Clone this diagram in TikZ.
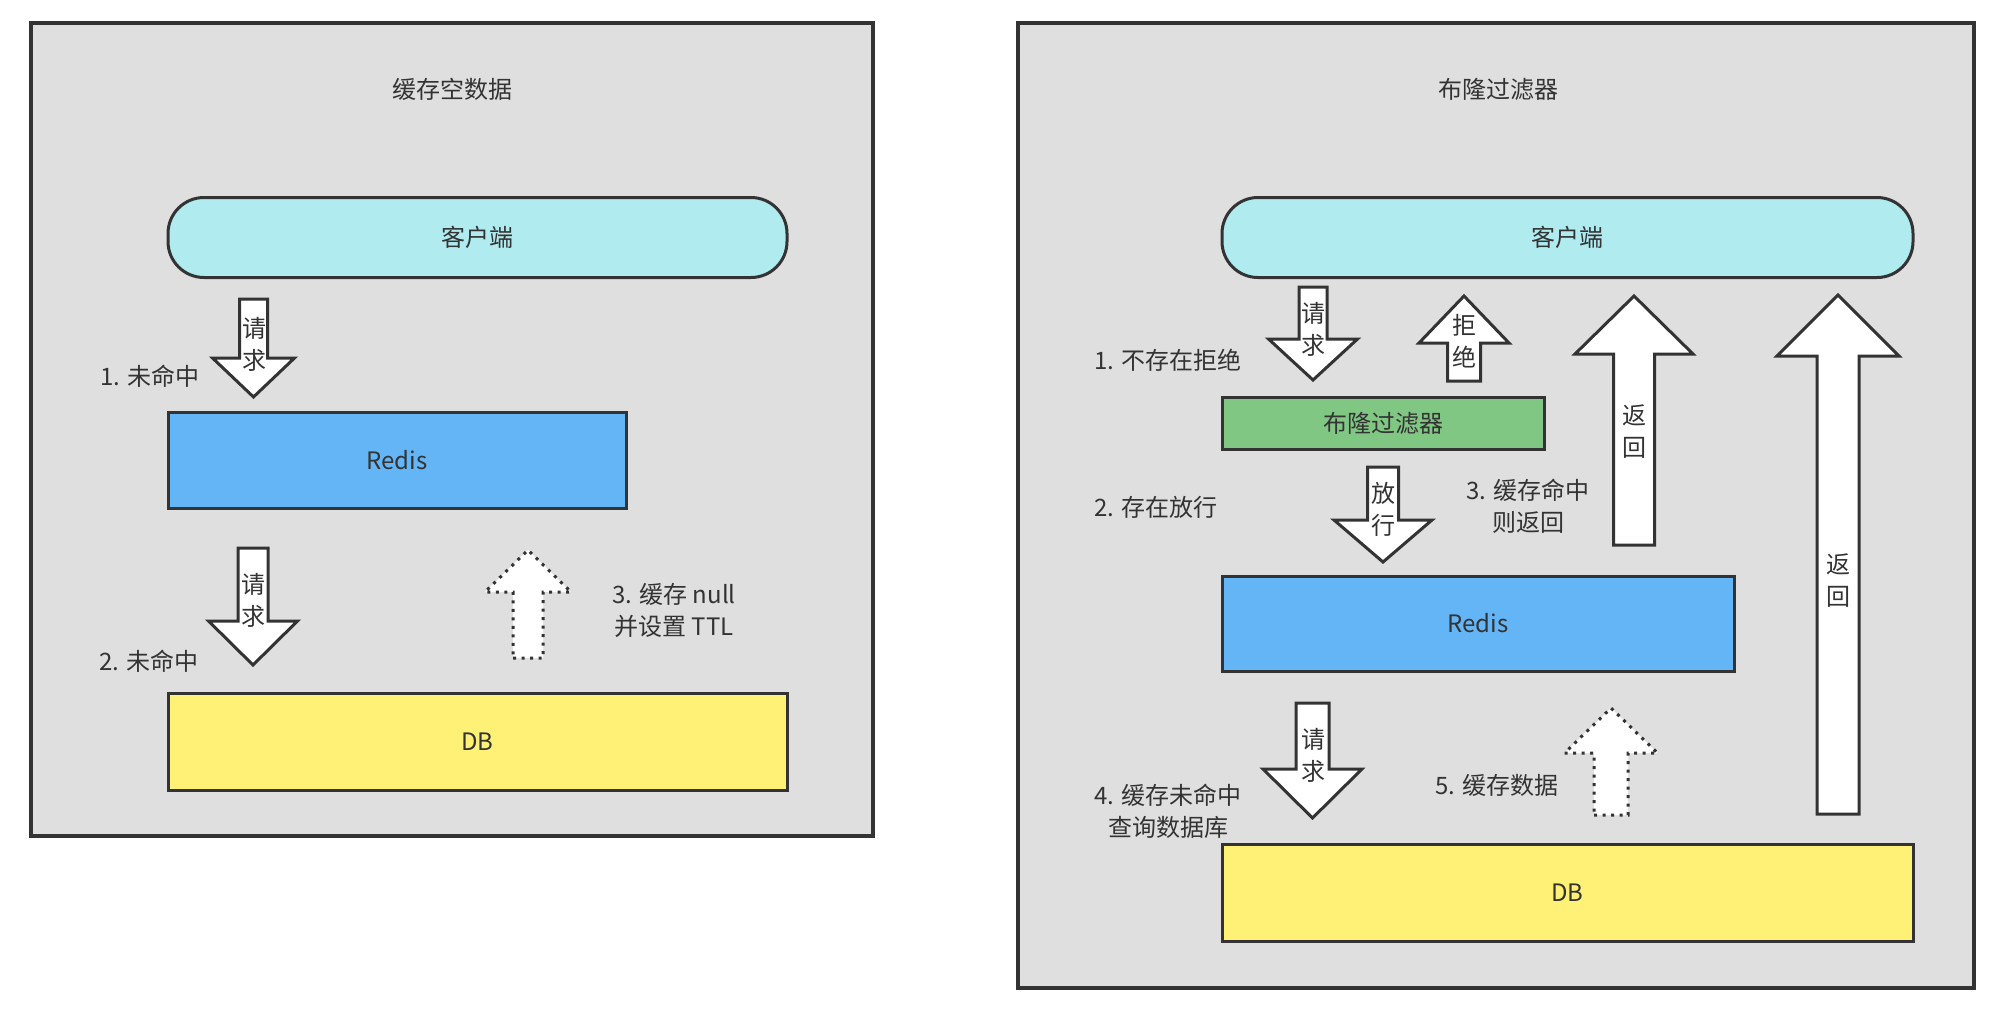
\documentclass[tikz,border=0pt]{standalone}
\usepackage{fontspec}
\setmainfont{Noto Sans CJK SC}
\definecolor{bg}{HTML}{DFDFDF}
\definecolor{edge}{HTML}{333333}
\definecolor{ink}{HTML}{333333}
\definecolor{cyanfill}{HTML}{B0EBF0}
\definecolor{redisfill}{HTML}{64B5F6}
\definecolor{dbfill}{HTML}{FFF176}
\definecolor{bloomfill}{HTML}{81C784}
\newcommand\blkarrow[7][barrow]{%
  \draw[#1] ({#2-#3},#5) -- ({#2+#3},#5) -- ({#2+#3},#6) -- ({#2+#4},#6) -- (#2,#7) -- ({#2-#4},#6) -- ({#2-#3},#6) -- cycle;}
\begin{document}
\begin{tikzpicture}[x=1pt,y=-1pt,
  panel/.style={draw=edge, line width=4pt, fill=bg},
  box/.style={draw=edge, line width=3pt, inner sep=0pt, text=ink, font=\fontsize{24}{32}\selectfont},
  pill/.style={box, fill=cyanfill, rounded corners=36pt},
  txt/.style={text=ink, font=\fontsize{24}{32}\selectfont, inner sep=0pt, align=center},
  barrow/.style={draw=edge, line width=3pt, fill=white, line join=miter},
  darrow/.style={draw=edge, line width=3pt, fill=white, dash pattern=on 3pt off 5.5pt}]
\useasboundingbox (0,0) rectangle (2012,1020);
\fill[white] (0,0) rectangle (2012,1020);

% ---------- left panel ----------
\draw[panel] (31,23) rectangle (873,836);
\node[txt] (titleL) at (452,89) {缓存空数据};
\node[pill, minimum width=619pt, minimum height=80pt] (clientL) at (477.5,237.5) {客户端};
\node[box, fill=redisfill, minimum width=458pt, minimum height=96pt] (redisL) at (397,460) {Redis};
\node[box, fill=dbfill, minimum width=619pt, minimum height=97pt] (dbL) at (477.5,741.5) {DB};

\blkarrow{253.5}{14}{41}{299}{358}{397}
\node[txt] (reqL1) at (254,344) {请\\求};
\node[txt, anchor=west] (missL1) at (100,376) {1. 未命中};

\blkarrow{253}{15}{44.5}{548}{621}{665}
\node[txt] (reqL2) at (253,600) {请\\求};
\node[txt, anchor=west] (missL2) at (99,661) {2. 未命中};

\blkarrow[darrow]{528}{15}{43}{658}{592}{550}
\node[txt] (nullL) at (674,610) {3. 缓存 null\\并设置 TTL};

% ---------- right panel ----------
\draw[panel] (1018,23) rectangle (1974,988);
\node[txt] (titleR) at (1498,89) {布隆过滤器};
\node[pill, minimum width=691pt, minimum height=80pt] (clientR) at (1567.5,237.5) {客户端};
\node[box, fill=bloomfill, minimum width=322pt, minimum height=52pt] (bloom) at (1383,423) {布隆过滤器};
\node[box, fill=redisfill, minimum width=512pt, minimum height=95pt] (redisR) at (1478,623.5) {Redis};
\node[box, fill=dbfill, minimum width=691pt, minimum height=97pt] (dbR) at (1567.5,892.5) {DB};

\blkarrow{1313}{14}{44.5}{287}{339}{380}
\node[txt] (reqR1) at (1313,329) {请\\求};
\node[txt, anchor=west] (rejectLbl) at (1094,360) {1. 不存在拒绝};

\blkarrow{1464}{16.5}{45}{381}{343}{296}
\node[txt] (reject) at (1464,341) {拒\\绝};

\blkarrow{1383}{15.5}{49}{467}{520}{562}
\node[txt] (pass) at (1383,509) {放\\行};
\node[txt, anchor=west] (passLbl) at (1094,507) {2. 存在放行};

\node[txt] (hitLbl) at (1528,506) {3. 缓存命中\\则返回};
\blkarrow{1634}{20.5}{59}{545}{354}{296}
\node[txt] (ret1) at (1634,432) {返\\回};

\blkarrow{1838}{21}{61}{814}{356}{295}
\node[txt] (ret2) at (1838,581) {返\\回};

\blkarrow{1312.5}{16.5}{49.5}{703}{769}{818}
\node[txt] (reqR2) at (1313,755) {请\\求};
\node[txt] (missR) at (1168,811) {4. 缓存未命中\\查询数据库};

\blkarrow[darrow]{1611}{17}{46.5}{815}{753}{708}
\node[txt] (cacheLbl) at (1497,785) {5. 缓存数据};
\end{tikzpicture}
\end{document}
